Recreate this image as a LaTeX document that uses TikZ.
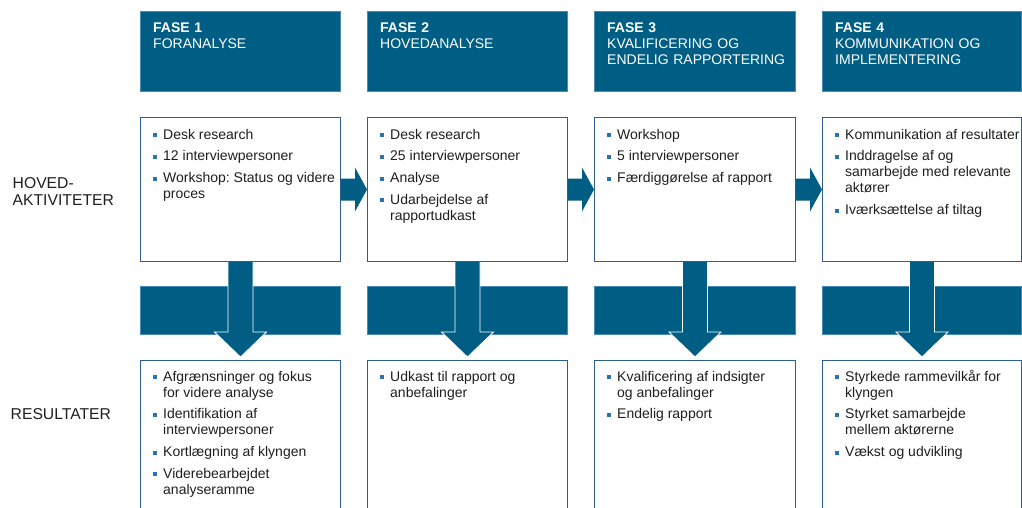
\documentclass[tikz,border=0pt]{standalone}
\usepackage{fontspec}
\setmainfont{Liberation Sans}
\usetikzlibrary{calc}
\definecolor{fasec}{HTML}{005E84}
\definecolor{hdredge}{HTML}{4A8BB5}
\definecolor{boxedge}{HTML}{2E5E8E}
\definecolor{bulc}{HTML}{2B73AE}
\definecolor{txtc}{HTML}{1F1F1F}
\newcommand\bp[1]{\par\noindent\llap{\makebox[10pt][l]{\textcolor{bulc}{\rule[2pt]{4pt}{4pt}}}}\strut #1}
\newcommand\blist[1]{\parbox[t]{250pt}{\fontsize{14}{16}\selectfont\frenchspacing\raggedright\leftskip=10pt\parskip=5.7pt\parindent=0pt #1}}
\begin{document}
\begin{tikzpicture}[x=1pt,y=-1pt,
  hdr/.style={rectangle, fill=fasec, draw=hdredge, line width=0.8pt, minimum height=80pt, inner sep=0, anchor=north west},
  actbox/.style={rectangle, draw=boxedge, line width=1pt, fill=white, minimum height=144pt, inner sep=0, anchor=north west},
  resbox/.style={rectangle, draw=boxedge, line width=1pt, fill=white, minimum height=160pt, inner sep=0, anchor=north west},
  band/.style={rectangle, fill=fasec, draw=hdredge, line width=0.6pt, minimum height=48pt, inner sep=0, anchor=north west},
  htxt/.style={anchor=north west, inner sep=0, text width=190pt, font=\fontsize{14}{16}\selectfont, text=white},
  txt/.style={anchor=north west, inner sep=0, font=\fontsize{14}{16}\selectfont, text=txtc},
  lbl/.style={inner sep=0, text width=140pt, font=\fontsize{15.7}{17}\selectfont, text=txtc},
  arrowfill/.style={fill=fasec},
  arrowedge/.style={draw=white, line width=0.8pt, line join=miter}
]
\clip (0,0) rectangle (1022,507);
\fill[white] (0,0) rectangle (1022,507);

% headers
\node[hdr, minimum width=200pt] (h1) at (140,11) {};
\node[hdr, minimum width=200pt] (h2) at (367,11) {};
\node[hdr, minimum width=201pt] (h3) at (594,11) {};
\node[hdr, minimum width=199pt] (h4) at (822,11) {};

% activity boxes
\node[actbox, minimum width=200pt] (a1) at (140,117) {};
\node[actbox, minimum width=200pt] (a2) at (367,117) {};
\node[actbox, minimum width=201pt] (a3) at (594,117) {};
\node[actbox, minimum width=199pt] (a4) at (822,117) {};

% bands
\node[band, minimum width=200pt] (b1) at (140,286) {};
\node[band, minimum width=200pt] (b2) at (367,286) {};
\node[band, minimum width=201pt] (b3) at (594,286) {};
\node[band, minimum width=199pt] (b4) at (822,286) {};

% result boxes
\node[resbox, minimum width=200pt] (r1) at (140,360) {};
\node[resbox, minimum width=200pt] (r2) at (367,360) {};
\node[resbox, minimum width=201pt] (r3) at (594,360) {};
\node[resbox, minimum width=199pt] (r4) at (822,360) {};

% right arrows between activity boxes
\foreach \s/\t in {a1/a2, a2/a3, a3/a4}{
  \fill[arrowfill] ($(\s.east)+(0,-11)$) -- ($(\s.east)+(14,-11)$) -- ($(\s.east)+(14,-22)$)
    -- (\t.west) -- ($(\s.east)+(14,22)$) -- ($(\s.east)+(14,11)$) -- ($(\s.east)+(0,11)$) -- cycle;
}

% down arrows from activity to result boxes
\foreach \s/\t in {a1/r1, a2/r2, a3/r3, a4/r4}{
  \fill[arrowfill] ($(\s.south)+(-12.5,0)$) -- ($(\t.north)+(-12.5,-28)$) -- ($(\t.north)+(-26,-28)$)
    -- ($(\t.north)+(0,-3)$) -- ($(\t.north)+(26,-28)$) -- ($(\t.north)+(12.5,-28)$) -- ($(\s.south)+(12.5,0)$) -- cycle;
  \draw[arrowedge] ($(\s.south)+(-12.5,0)$) -- ($(\t.north)+(-12.5,-28)$) -- ($(\t.north)+(-26,-28)$)
    -- ($(\t.north)+(0,-3)$) -- ($(\t.north)+(26,-28)$) -- ($(\t.north)+(12.5,-28)$) -- ($(\s.south)+(12.5,0)$);
}

% header texts
\node[htxt] (ht1) at ($(h1.north west)+(13,9.8)$) {\strut\textbf{FASE 1}\newline FORANALYSE};
\node[htxt] (ht2) at ($(h2.north west)+(13,9.8)$) {\strut\textbf{FASE 2}\newline HOVEDANALYSE};
\node[htxt] (ht3) at ($(h3.north west)+(13,9.8)$) {\strut\textbf{FASE 3}\newline KVALIFICERING OG\newline ENDELIG RAPPORTERING};
\node[htxt] (ht4) at ($(h4.north west)+(13,9.8)$) {\strut\textbf{FASE 4}\newline KOMMUNIKATION OG\newline IMPLEMENTERING};

% activity texts
\node[txt] (at1) at ($(a1.north west)+(13,10.8)$) {\blist{%
  \bp{Desk research}\bp{12 interviewpersoner}\bp{Workshop: Status og videre\newline proces}}};
\node[txt] (at2) at ($(a2.north west)+(13,10.8)$) {\blist{%
  \bp{Desk research}\bp{25 interviewpersoner}\bp{Analyse}\bp{Udarbejdelse af\newline rapportudkast}}};
\node[txt] (at3) at ($(a3.north west)+(13,10.8)$) {\blist{%
  \bp{Workshop}\bp{5 interviewpersoner}\bp{Færdiggørelse af rapport}}};
\node[txt] (at4) at ($(a4.north west)+(13,10.8)$) {\blist{%
  \bp{Kommunikation af resultater}\bp{Inddragelse af og\newline samarbejde med relevante\newline aktører}\bp{Iværksættelse af tiltag}}};

% result texts
\node[txt] (rt1) at ($(r1.north west)+(13,9.8)$) {\blist{%
  \bp{Afgrænsninger og fokus\newline for videre analyse}\bp{Identifikation af\newline interviewpersoner}\bp{Kortlægning af klyngen}\bp{Viderebearbejdet\newline analyseramme}}};
\node[txt] (rt2) at ($(r2.north west)+(13,9.8)$) {\blist{%
  \bp{Udkast til rapport og\newline anbefalinger}}};
\node[txt] (rt3) at ($(r3.north west)+(13,9.8)$) {\blist{%
  \bp{Kvalificering af indsigter\newline og anbefalinger}\bp{Endelig rapport}}};
\node[txt] (rt4) at ($(r4.north west)+(13,9.8)$) {\blist{%
  \bp{Styrkede rammevilkår for\newline klyngen}\bp{Styrket samarbejde\newline mellem aktørerne}\bp{Vækst og udvikling}}};

% row labels
\node[lbl, anchor=north west] (l1) at (12.5,176.5) {\raggedright\strut HOVED-\newline AKTIVITETER};
\node[lbl, anchor=base west] (l2) at (10.5,419) {RESULTATER};
\end{tikzpicture}
\end{document}
